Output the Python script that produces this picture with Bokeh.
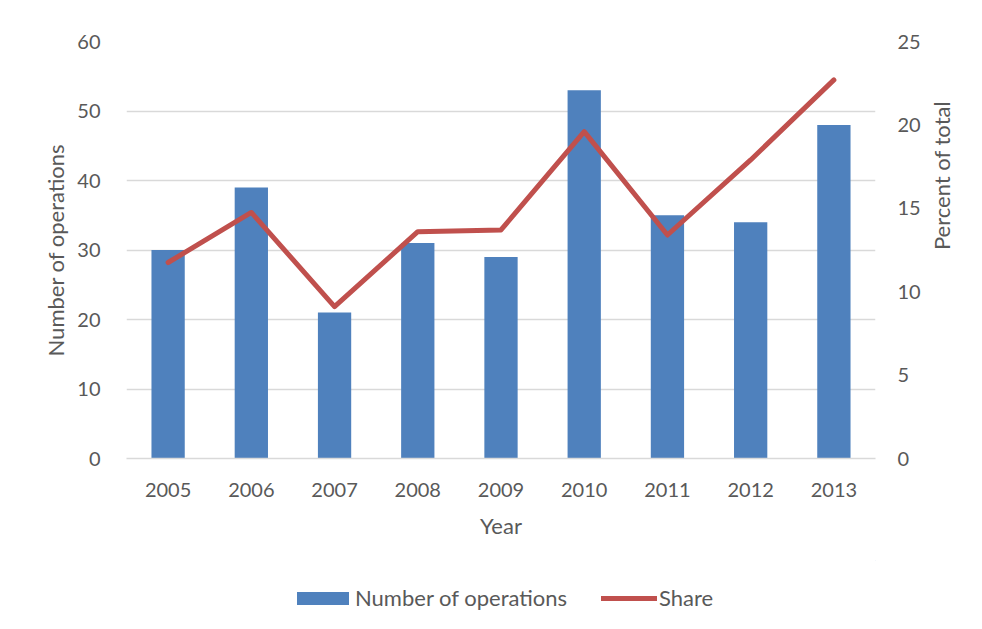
import math
from bokeh.plotting import figure
from bokeh.layouts import column
from bokeh.models import Range1d, LinearAxis, Legend, LegendItem, FixedTicker, ColumnDataSource
from bokeh.embed import file_html
from bokeh.resources import INLINE

years = ["2005", "2006", "2007", "2008", "2009", "2010", "2011", "2012", "2013"]
operations = [30, 39, 21, 31, 29, 53, 35, 34, 48]
share = [11.75, 14.75, 9.1, 13.6, 13.7, 19.6, 13.4, 17.9, 22.7]
left_ticks = [0, 10, 20, 30, 40, 50, 60]
right_ticks = [0, 5, 10, 15, 20, 25]

FONT = "Lato"
TXT = "#595959"
FS = "20px"
LFS = "22px"
BAR = "#4F81BD"
RED = "#C0504D"

src = ColumnDataSource(dict(year=years, ops=operations, share=share))

p = figure(x_range=years, y_range=Range1d(0, 60), width=975, height=560,
           output_backend="svg", toolbar_location=None,
           min_border_left=126, min_border_right=100, min_border_top=41, min_border_bottom=102)
p.extra_y_ranges = {"pct": Range1d(0, 25)}
p.outline_line_color = None
p.background_fill_color = "white"
p.border_fill_color = "white"

bars = p.vbar(x="year", top="ops", width=0.4, source=src, fill_color=BAR, line_color=None)
line = p.line(x="year", y="share", source=src, y_range_name="pct", line_color=RED,
              line_width=5, line_cap="round", line_join="round")

p.xgrid.grid_line_color = None
p.ygrid.grid_line_color = "#D9D9D9"
p.ygrid.grid_line_width = 1.5
p.yaxis.ticker = FixedTicker(ticks=left_ticks)

for ax in [p.xaxis[0], p.yaxis[0]]:
    ax.major_tick_line_color = None
    ax.minor_tick_line_color = None
    ax.major_label_text_font = FONT
    ax.major_label_text_font_size = FS
    ax.major_label_text_color = TXT
    ax.axis_label_text_font = FONT
    ax.axis_label_text_font_size = LFS
    ax.axis_label_text_color = TXT
    ax.axis_label_text_font_style = "normal"

p.yaxis.axis_line_color = None
p.yaxis.axis_label = "Number of operations"
p.yaxis.major_label_standoff = 20
p.yaxis.axis_label_standoff = 5
p.xaxis.axis_line_color = "#D9D9D9"
p.xaxis.axis_line_width = 1.5
p.xaxis.axis_label = "Year"
p.xaxis.major_label_standoff = 18
p.xaxis.axis_label_standoff = 12

rax = LinearAxis(y_range_name="pct", ticker=FixedTicker(ticks=right_ticks), axis_label="Percent of total")
rax.axis_line_color = None
rax.major_tick_line_color = None
rax.minor_tick_line_color = None
rax.major_label_text_font = FONT
rax.major_label_text_font_size = FS
rax.major_label_text_color = TXT
rax.axis_label_text_font = FONT
rax.axis_label_text_font_size = LFS
rax.axis_label_text_color = TXT
rax.axis_label_text_font_style = "normal"
rax.axis_label_orientation = math.pi / 2
rax.major_label_standoff = 16
rax.axis_label_standoff = 18
p.add_layout(rax, "right")

# legend strip below the chart (dummy renderers sit outside the visible range)
p2 = figure(width=975, height=60, x_range=Range1d(0, 1), y_range=Range1d(0, 1),
            output_backend="svg", toolbar_location=None,
            min_border_left=0, min_border_right=0, min_border_top=0, min_border_bottom=0)
p2.axis.visible = False
p2.grid.visible = False
p2.outline_line_color = None
p2.border_fill_color = "white"
lb = p2.vbar(x=[10], top=[10], bottom=[9], width=0.4, fill_color=BAR, line_color=None)
ll = p2.line(x=[10, 11], y=[10, 10], line_color=RED, line_width=5, line_cap="round")

common = dict(orientation="horizontal", label_text_font=FONT, label_text_font_size=LFS,
              label_text_color=TXT, border_line_color=None, background_fill_alpha=0,
              padding=0, margin=0)
leg1 = Legend(items=[LegendItem(label="Number of operations", renderers=[lb])],
              location=(164, 9), glyph_width=65, glyph_height=16, label_standoff=0, **common)
leg2 = Legend(items=[LegendItem(label="Share", renderers=[ll])],
              location=(475, 9), glyph_width=56, glyph_height=16, label_standoff=2, **common)
p2.add_layout(leg1, "center")
p2.add_layout(leg2, "center")

open("out.html", "w").write(file_html(column(p, p2, spacing=0), INLINE))
